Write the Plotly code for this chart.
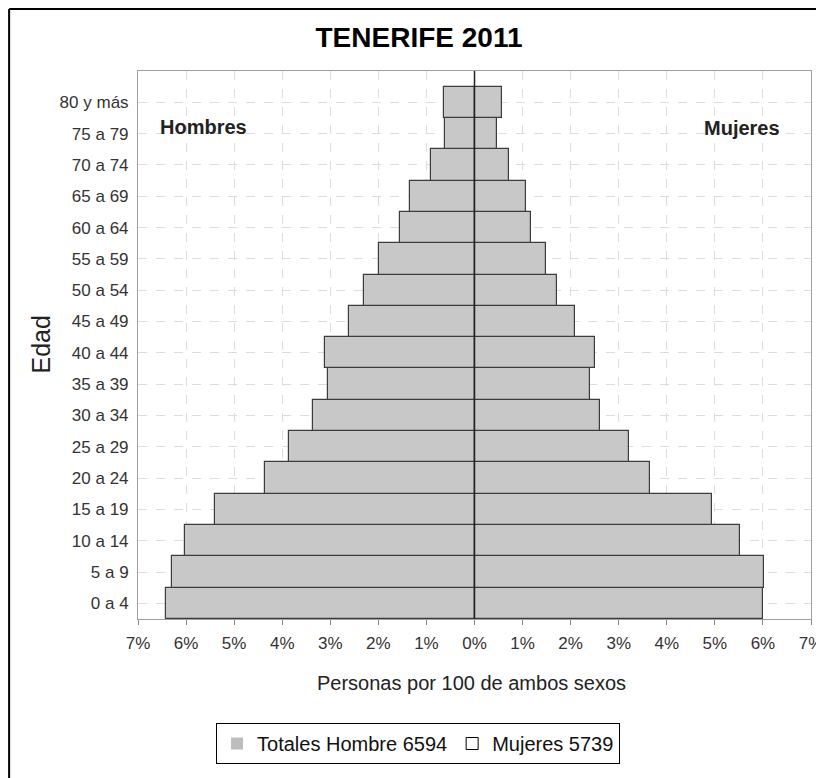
import plotly.graph_objects as go

# Age groups, bottom to top
edades = ["0 a 4", "5 a 9", "10 a 14", "15 a 19", "20 a 24", "25 a 29", "30 a 34",
          "35 a 39", "40 a 44", "45 a 49", "50 a 54", "55 a 59", "60 a 64",
          "65 a 69", "70 a 74", "75 a 79", "80 y más"]

# Percent of total population (both sexes)
hombres = [6.41, 6.30, 6.03, 5.40, 4.36, 3.86, 3.36, 3.05, 3.12, 2.62, 2.29,
           1.98, 1.54, 1.35, 0.90, 0.61, 0.64]
mujeres = [6.00, 6.03, 5.53, 4.94, 3.66, 3.22, 2.62, 2.41, 2.51, 2.09, 1.71,
           1.49, 1.18, 1.08, 0.71, 0.47, 0.57]

ticks = [-7, -6, -5, -4, -3, -2, -1, 0, 1, 2, 3, 4, 5, 6, 7]
tick_labels = [str(abs(t)) + "%" for t in ticks]

font = "Liberation Sans, Arial, sans-serif"

fig = go.Figure()

fig.add_bar(y=edades, x=[-v for v in hombres], orientation="h", showlegend=False,
            marker=dict(color="#c8c8c8", line=dict(color="#3c3c3c", width=1.2)),
            name="Hombres")
fig.add_bar(y=edades, x=mujeres, orientation="h", showlegend=False,
            marker=dict(color="#c8c8c8", line=dict(color="#3c3c3c", width=1.2)),
            name="Mujeres")

# legend-only entries
fig.add_bar(y=[None], x=[None], orientation="h", name="Totales Hombre 6594",
            marker=dict(color="#bdbdbd", line=dict(width=0)))
fig.add_bar(y=[None], x=[None], orientation="h", name="Mujeres 5739",
            marker=dict(color="white", line=dict(color="black", width=1)))

# page has an 8px body margin, so the figure is a bit smaller than the window
fig.update_layout(
    width=816, height=770,
    margin=dict(l=130, r=13, t=63, b=159, autoexpand=False),
    paper_bgcolor="white", plot_bgcolor="white",
    barmode="overlay", bargap=0,
    title=dict(text="<b>TENERIFE 2011</b>", x=0.5037, xref="container", xanchor="center",
               y=0.9623, yref="container", yanchor="middle",
               font=dict(family=font, size=28, color="black")),
    legend=dict(orientation="h", xref="container", yref="container",
                x=0.5025, xanchor="center", y=0.0714, yanchor="top",
                bordercolor="black", borderwidth=1, bgcolor="white",
                font=dict(family=font, size=20, color="#111")),
)

fig.update_xaxes(range=[-7, 7], tickvals=ticks, ticktext=tick_labels, automargin=False,
                 showgrid=True, gridcolor="#dddddd", griddash="dash", zeroline=False,
                 showline=True, mirror=True, linecolor="#a0a0a0", linewidth=1,
                 ticks="outside", ticklen=5, tickcolor="#888",
                 ticklabelstandoff=4, ticklabeloverflow="allow",
                 tickfont=dict(family=font, size=17, color="#333"))
fig.update_yaxes(type="category", categoryorder="array", categoryarray=edades,
                 range=[-0.5, 17.0], automargin=False,
                 showgrid=True, gridcolor="#dddddd", griddash="dash",
                 showline=True, mirror=True, linecolor="#a0a0a0", linewidth=1,
                 ticklabelstandoff=5,
                 tickfont=dict(family=font, size=17, color="#333"))

# zero line over the bars
fig.add_shape(type="line", x0=0, x1=0, xref="x", y0=0, y1=1, yref="paper",
              line=dict(color="#222", width=1.5), layer="above")

# outer frame (left and top edges)
fig.add_shape(type="line", xref="paper", yref="paper", x0=-0.1915, x1=-0.1915,
              y0=-0.29, y1=1.113, line=dict(color="black", width=2))
fig.add_shape(type="line", xref="paper", yref="paper", x0=-0.1915, x1=1.03,
              y0=1.113, y1=1.113, line=dict(color="black", width=2))

fig.add_annotation(text="<b>Hombres</b>", x=0.0975, y=0.898, xref="paper", yref="paper",
                   xanchor="center", yanchor="middle", showarrow=False,
                   font=dict(family=font, size=20, color="#222"))
fig.add_annotation(text="<b>Mujeres</b>", x=0.898, y=0.896, xref="paper", yref="paper",
                   xanchor="center", yanchor="middle", showarrow=False,
                   font=dict(family=font, size=20, color="#222"))
fig.add_annotation(text="Personas por 100 de ambos sexos", x=0.496, y=-0.117,
                   xref="paper", yref="paper", showarrow=False,
                   xanchor="center", yanchor="middle",
                   font=dict(family=font, size=20, color="#222"))
fig.add_annotation(text="Edad", x=-0.1448, y=0.5, xref="paper", yref="paper",
                   xanchor="center", yanchor="middle", showarrow=False, textangle=-90,
                   font=dict(family=font, size=25, color="#222"))

fig.write_html("out.html")
